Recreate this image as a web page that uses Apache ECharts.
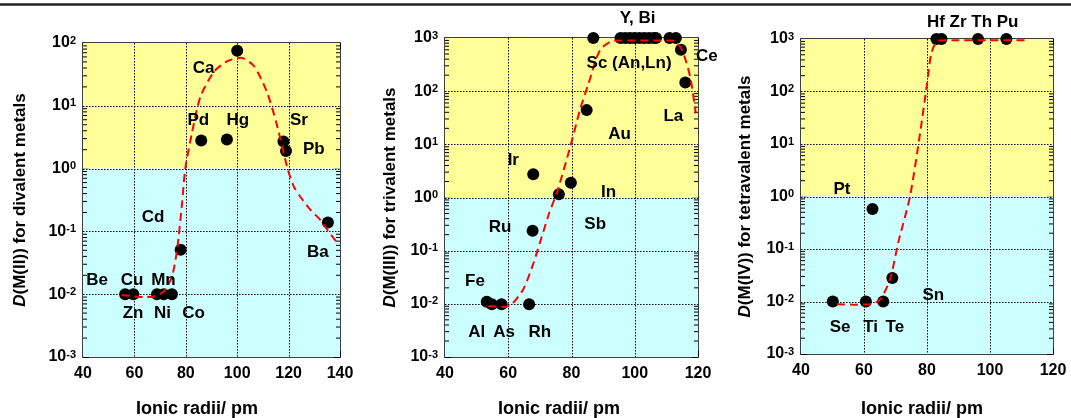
<!DOCTYPE html>
<html>
<head>
<meta charset="utf-8">
<script src="https://cdn.jsdelivr.net/npm/echarts@6/dist/echarts.min.js"></script>
<style>
  html, body { margin: 0; padding: 0; background: #fff; }
  #chart { width: 1071px; height: 418px; }
</style>
</head>
<body>
<div id="chart"></div>
<script>
// ionic radius (pm), distribution ratio D
const divalentPoints = [
  [56.4, 0.01], [59.6, 0.01], [68.8, 0.01], [71.4, 0.01], [74.6, 0.01],
  [78, 0.051], [86, 2.8], [96, 2.9], [100, 75], [118, 2.7], [119, 1.9], [135.3, 0.138]
];
const divalentFit = [
  [55, 0.0097], [60, 0.0092], [63.6, 0.009], [67.5, 0.0092], [71.4, 0.011], [74.6, 0.019],
  [76.6, 0.051], [78.5, 0.27], [79.8, 1.0], [82.4, 3.7], [85.7, 14], [91, 35], [96, 51],
  [101.3, 58], [106.5, 43], [111.7, 16], [115.6, 4.7], [119.6, 1.0], [122, 0.52],
  [124.5, 0.36], [128.5, 0.22], [132.5, 0.15], [135.5, 0.1], [138.4, 0.07]
];
const divalentLabels = [
  [86.9, 39, 'Ca'], [84.9, 5.8, 'Pd'], [100.2, 5.8, 'Hg'], [124, 5.8, 'Sr'], [129.8, 2.0, 'Pb'],
  [67.3, 0.166, 'Cd'], [131.4, 0.046, 'Ba'], [45.5, 0.0165, 'Be'], [59.1, 0.0165, 'Cu'],
  [71.3, 0.0165, 'Mn'], [59.5, 0.0049, 'Zn'], [70.9, 0.0049, 'Ni'], [83, 0.0049, 'Co']
];

const trivalentPoints = [
  [86.9, 1000], [95.5, 1000], [97, 1000], [98.5, 1000], [100, 1000], [101.5, 1000],
  [103, 1000], [104.5, 1000], [106, 1000], [106.7, 1000], [111, 1000], [113, 1000],
  [114.6, 600], [116, 145], [84.8, 44], [67.9, 2.75], [79.8, 1.9], [76, 1.15], [67.7, 0.236],
  [53.2, 0.011], [54.8, 0.0098], [57.9, 0.0098], [66.6, 0.0098]
];
const trivalentFit = [
  [53.7, 0.0091], [58.5, 0.0087], [61.1, 0.0098], [64.8, 0.019], [68, 0.059], [70, 0.14],
  [72.9, 0.5], [75.5, 1.3], [79.6, 9], [82.7, 45], [85.4, 140], [89, 590], [93.3, 890],
  [100, 900], [106, 900], [112.2, 890], [114.9, 600], [117.5, 188], [119.3, 38]
];
const trivalentLabels = [
  [100.9, 2360, 'Y, Bi'], [98.2, 334, 'Sc (An,Ln)'], [122.8, 458, 'Ce'], [112.2, 33, 'La'],
  [95.2, 15.6, 'Au'], [61.6, 4.9, 'Ir'], [91.7, 1.25, 'In'], [57.4, 0.27, 'Ru'],
  [87.5, 0.31, 'Sb'], [49.5, 0.027, 'Fe'], [50, 0.0029, 'Al'], [58.7, 0.0029, 'As'],
  [70, 0.0029, 'Rh']
];

const tetravalentPoints = [
  [83, 1000], [84.6, 1000], [96.2, 1000], [105.2, 1000], [62.7, 0.58], [69, 0.028],
  [50.1, 0.01], [60.6, 0.01], [66.1, 0.01]
];
const tetravalentFit = [
  [51.4, 0.0089], [56.6, 0.0087], [61.9, 0.0089], [65.1, 0.0108], [68.3, 0.027],
  [70.9, 0.135], [74.6, 1.0], [77.8, 16], [79.9, 125], [81.4, 540], [83.5, 930],
  [88, 950], [100, 950], [112, 950]
];
const tetravalentLabels = [
  [94.5, 2040, 'Hf Zr Th Pu'], [53, 1.38, 'Pt'], [82, 0.013, 'Sn'],
  [52.4, 0.0032, 'Se'], [62.1, 0.0032, 'Ti'], [69.8, 0.0032, 'Te']
];

const FONT = '"Liberation Sans", Arial, sans-serif';

const panels = [
  { grid: { left: 83, top: 43, width: 257, height: 314 }, xMax: 140, yMax: 100,
    points: divalentPoints, fit: divalentFit, labels: divalentLabels,
    yName: '{i|D}(M(II)) for divalent metals', nameGap: 54, xTitle: 197 },
  { grid: { left: 445, top: 38, width: 253, height: 319 }, xMax: 120, yMax: 1000,
    points: trivalentPoints, fit: trivalentFit, labels: trivalentLabels,
    yName: '{i|D}(M(III)) for trivalent metals', nameGap: 46, xTitle: 559 },
  { grid: { left: 801, top: 39, width: 252, height: 315 }, xMax: 120, yMax: 1000,
    points: tetravalentPoints, fit: tetravalentFit, labels: tetravalentLabels,
    yName: '{i|D}(M(IV)) for tetravalent metals', nameGap: 47, xTitle: 922 }
];

const tickStyle = { color: '#000', width: 1 };

function xAxes(g, p) {
  const base = {
    type: 'value', gridIndex: g, min: 40, max: p.xMax, interval: 20,
    axisLine: { onZero: false, lineStyle: { color: '#000', width: 1.5 } },
    axisTick: { inside: true, length: 6, lineStyle: tickStyle },
    minorTick: { show: true, splitNumber: 4, length: 4, lineStyle: tickStyle },
    splitLine: { show: false }
  };
  return [
    Object.assign({}, base, {
      position: 'bottom',
      axisLabel: { color: '#000', fontSize: 16, fontWeight: 'bold', fontFamily: FONT, margin: 9 }
    }),
    Object.assign({}, base, { position: 'top', axisLabel: { show: false } })
  ];
}

function yAxes(g, p) {
  const base = {
    type: 'log', logBase: 10, gridIndex: g, min: 0.001, max: p.yMax,
    axisLine: { onZero: false, lineStyle: { color: '#000', width: 1.5 } },
    axisTick: { inside: true, length: 6, lineStyle: tickStyle },
    splitLine: { show: false }
  };
  return [
    Object.assign({}, base, {
      position: 'left',
      name: p.yName, nameLocation: 'middle', nameGap: p.nameGap,
      nameTextStyle: {
        color: '#000', fontSize: 17, fontWeight: 'bold', fontFamily: FONT,
        rich: { i: { fontSize: 17, fontWeight: 'bold', fontStyle: 'italic', fontFamily: FONT, color: '#000' } }
      },
      axisLabel: {
        margin: 7,
        formatter: v => '{b|10}{s|' + Math.round(Math.log10(v)) + '}',
        rich: {
          b: { fontSize: 16, fontWeight: 'bold', fontFamily: FONT, color: '#000', verticalAlign: 'bottom', lineHeight: 16 },
          s: { fontSize: 11, fontWeight: 'bold', fontFamily: FONT, color: '#000', verticalAlign: 'top', lineHeight: 11, padding: [0, 0, 10, 0] }
        }
      }
    }),
    Object.assign({}, base, { position: 'right', axisLabel: { show: false } })
  ];
}

function series(g, p) {
  const idx = { xAxisIndex: g * 2, yAxisIndex: g * 2 };
  return [
    // yellow / cyan bands split at D = 1, dotted grid on top of them
    Object.assign({
      type: 'custom', silent: true, z: 1, clip: false, data: [[40, 1]],
      renderItem(params, api) {
        const tl = api.coord([40, p.yMax]);
        const mid = api.coord([p.xMax, 1]);
        const br = api.coord([p.xMax, 0.001]);
        const dot = { stroke: '#000', lineWidth: 1, lineDash: [1.5, 1.5] };
        const children = [
          { type: 'rect', shape: { x: tl[0], y: tl[1], width: mid[0] - tl[0], height: mid[1] - tl[1] }, style: { fill: '#FFFF99' } },
          { type: 'rect', shape: { x: tl[0], y: mid[1], width: br[0] - tl[0], height: br[1] - mid[1] }, style: { fill: '#CCFFFF' } }
        ];
        for (let x = 60; x < p.xMax; x += 20) {
          const a = api.coord([x, p.yMax]);
          const b = api.coord([x, 0.001]);
          children.push({ type: 'line', shape: { x1: Math.round(a[0]) + 0.5, y1: a[1], x2: Math.round(b[0]) + 0.5, y2: b[1] }, style: dot });
        }
        const top = Math.round(Math.log10(p.yMax));
        for (let e = -2; e < top; e++) {
          const a = api.coord([40, Math.pow(10, e)]);
          const b = api.coord([p.xMax, Math.pow(10, e)]);
          children.push({ type: 'line', shape: { x1: a[0], y1: Math.round(a[1]) + 0.5, x2: b[0], y2: Math.round(b[1]) + 0.5 }, style: dot });
        }
        return { type: 'group', children };
      }
    }, idx),
    // log minor ticks on left and right edges
    Object.assign({
      type: 'custom', silent: true, z: 3, clip: false, data: [[40, 1]],
      renderItem(params, api) {
        const children = [];
        const top = Math.round(Math.log10(p.yMax));
        for (let e = -3; e < top; e++) {
          for (let k = 2; k <= 9; k++) {
            const v = k * Math.pow(10, e);
            const l = api.coord([40, v]);
            const r = api.coord([p.xMax, v]);
            children.push({ type: 'line', shape: { x1: l[0], y1: l[1], x2: l[0] + 4, y2: l[1] }, style: { stroke: '#000', lineWidth: 1 } });
            children.push({ type: 'line', shape: { x1: r[0] - 4, y1: r[1], x2: r[0], y2: r[1] }, style: { stroke: '#000', lineWidth: 1 } });
          }
        }
        return { type: 'group', children };
      }
    }, idx),
    Object.assign({
      type: 'scatter', data: p.points, symbolSize: 12, z: 4, clip: false,
      itemStyle: { color: '#000', opacity: 1 }
    }, idx),
    Object.assign({
      type: 'line', data: p.fit, smooth: 0.25, symbol: 'none', z: 5, clip: false,
      lineStyle: { color: '#FF0000', width: 2, type: [8, 5] }
    }, idx),
    Object.assign({
      type: 'scatter', data: p.labels, symbolSize: 0, z: 6, clip: false, silent: true,
      itemStyle: { color: '#000', opacity: 1 },
      label: {
        show: true, position: [0, 0], align: 'center', verticalAlign: 'middle',
        formatter: d => d.data[2], textBorderWidth: 0,
        color: '#000', fontSize: 17, fontWeight: 'bold', fontFamily: FONT
      }
    }, idx)
  ];
}

const chart = echarts.init(document.getElementById('chart'), null, { renderer: 'canvas' });

const option = {
  animation: false,
  backgroundColor: '#fff',
  grid: panels.map(p => p.grid),
  xAxis: panels.flatMap((p, g) => xAxes(g, p)),
  yAxis: panels.flatMap((p, g) => yAxes(g, p)),
  series: panels.flatMap((p, g) => series(g, p)),
  graphic: [
    { type: 'line', shape: { x1: 0, y1: 4.5, x2: 1071, y2: 4.5 }, style: { stroke: '#222', lineWidth: 2.5 } }
  ].concat(panels.map(p => ({
    type: 'text', x: p.xTitle, y: 400,
    style: { text: 'Ionic radii/ pm', fill: '#000', font: 'bold 18px ' + FONT, textAlign: 'center', textVerticalAlign: 'top' }
  })))
};

chart.setOption(option);
</script>
</body>
</html>
